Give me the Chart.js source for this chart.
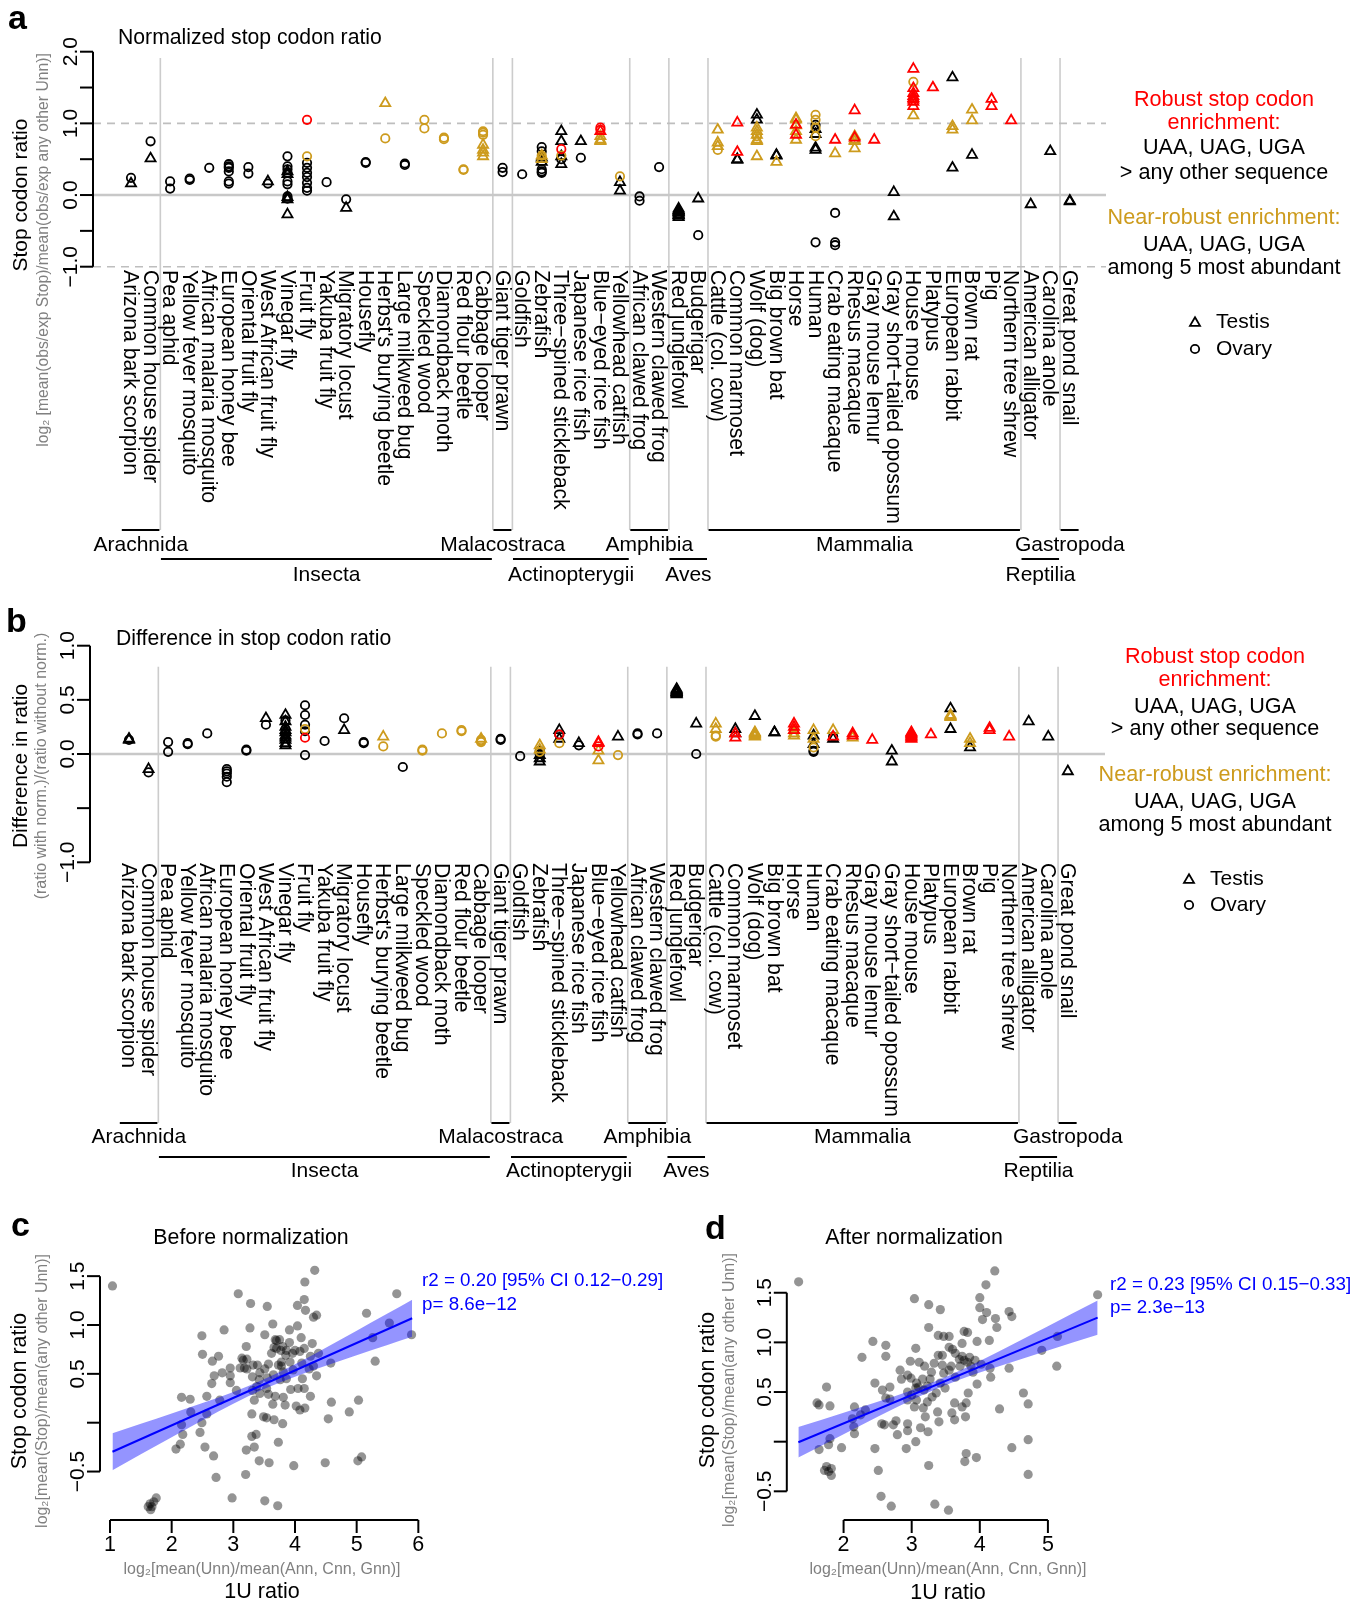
<!DOCTYPE html>
<html><head><meta charset="utf-8">
<script src="https://cdn.jsdelivr.net/npm/chart.js@4.4.1/dist/chart.umd.min.js"></script>
<style>
html,body{margin:0;padding:0;background:#fff;}
body{width:1355px;height:1604px;position:relative;overflow:hidden;}
canvas{position:absolute;}
</style></head><body>
<canvas id="ca" width="1355" height="590" style="left:0;top:0;width:1355px;height:590px"></canvas>
<canvas id="cb" width="1355" height="600" style="left:0;top:590px;width:1355px;height:600px"></canvas>
<canvas id="cc" width="680" height="414" style="left:0;top:1190px;width:680px;height:414px"></canvas>
<canvas id="cd" width="675" height="414" style="left:680px;top:1190px;width:675px;height:414px"></canvas>
<script>
// ---------------- DATA ----------------
const species = ["Arizona bark scorpion","Common house spider","Pea aphid","Yellow fever mosquito","African malaria mosquito","European honey bee","Oriental fruit fly","West African fruit fly","Vinegar fly","Fruit fly","Yakuba fruit fly","Migratory locust","Housefly","Herbst's burying beetle","Large milkweed bug","Speckled wood","Diamondback moth","Red flour beetle","Cabbage looper","Giant tiger prawn","Goldfish","Zebrafish","Three\u2212spined stickleback","Japanese rice fish","Blue\u2212eyed rice fish","Yellowhead catfish","African clawed frog","Western clawed frog","Red junglefowl","Budgerigar","Cattle (col. cow)","Common marmoset","Wolf (dog)","Big brown bat","Horse","Human","Crab eating macaque","Rhesus macaque","Gray mouse lemur","Gray short\u2212tailed opossum","House mouse","Platypus","European rabbit","Brown rat","Pig","Northern tree shrew","American alligator","Carolina anole","Great pond snail"];
const groupNames = ["Arachnida","Insecta","Malacostraca","Actinopterygii","Amphibia","Aves","Mammalia","Reptilia","Gastropoda"];
const groupStart = [1,3,20,21,27,29,31,47,49];
const groupEnd   = [2,19,20,26,28,30,46,48,49];
const groupRow   = [0,1,0,1,0,1,0,1,0];

// panel a: normalized stop codon ratio  [species index, value]
const aTestisBlack = [[1,0.16],[2,0.51],[8,0.19],[9,0.33],[9,0.29],[9,-0.03],[9,-0.06],[9,-0.27],[12,-0.18],
 [22,0.52],[22,0.46],[23,0.89],[23,0.75],[23,0.54],[23,0.43],[24,0.75],[26,0.18],[26,0.06],
 [29,-0.19],[29,-0.21],[29,-0.23],[29,-0.25],[29,-0.27],[29,-0.29],[29,-0.31],[29,-0.24],[29,-0.22],[29,-0.28],
 [30,-0.05],[32,0.50],[32,0.49],[33,1.12],[33,1.05],[34,0.56],[34,0.55],[36,0.92],[36,0.85],[36,0.66],[36,0.63],
 [40,0.04],[40,-0.30],[43,1.64],[43,0.38],[44,0.56],[47,-0.13],[48,0.61],[49,-0.08],[49,-0.09]];
const aTestisRed = [[25,0.89],[32,1.01],[32,0.60],[35,0.98],[35,0.84],[37,0.77],[38,1.18],[38,0.80],[39,0.77],
 [41,1.76],[41,1.49],[41,1.42],[41,1.38],[41,1.33],[41,1.35],[41,1.24],[41,1.30],[42,1.50],[45,1.34],[45,1.24],[46,1.04]];
const aTestisGold = [[14,1.28],[19,0.70],[19,0.63],[19,0.59],[19,0.54],[22,0.55],[22,0.50],[25,0.82],[25,0.77],[25,0.75],
 [31,0.91],[31,0.73],[31,0.68],[33,0.94],[33,0.89],[33,0.84],[33,0.77],[33,0.75],[33,0.54],[34,0.46],
 [35,1.07],[35,1.05],[35,0.97],[35,0.89],[35,0.77],[37,0.58],[38,0.82],[38,0.77],[38,0.75],[38,0.65],[41,1.11],[43,0.91],[43,0.96],[44,1.19],[44,1.04]];
const aOvaryBlack = [[1,0.24],[2,0.75],[3,0.19],[3,0.09],[4,0.23],[4,0.21],[5,0.38],[6,0.43],[6,0.40],[6,0.38],[6,0.33],[6,0.19],[6,0.16],[7,0.39],[7,0.30],[8,0.16],
 [9,0.54],[9,0.40],[9,0.36],[9,0.31],[9,0.19],[9,0.15],[9,-0.02],[9,-0.05],
 [10,0.45],[10,0.38],[10,0.31],[10,0.25],[10,0.17],[10,0.10],[10,0.06],
 [11,0.18],[12,-0.06],[13,0.46],[13,0.45],[15,0.44],[15,0.42],[20,0.38],[20,0.32],[21,0.29],
 [22,0.67],[22,0.61],[22,0.36],[22,0.33],[22,0.31],[23,0.50],[24,0.52],[27,-0.02],[27,-0.08],[28,0.39],[30,-0.56],
 [36,0.98],[36,-0.66],[37,-0.25],[37,-0.66],[37,-0.70]];
const aOvaryRed = [[10,1.05],[23,0.64],[25,0.94],[25,0.91]];
const aOvaryGold = [[10,0.54],[14,0.79],[16,1.05],[16,0.93],[17,0.80],[17,0.78],[18,0.36],[18,0.35],[19,0.89],[19,0.87],[19,0.84],
 [22,0.55],[23,0.55],[26,0.26],[31,0.63],[33,0.82],[36,1.12],[36,1.05],[36,0.94],[36,0.82],[41,1.58]];

// panel b: difference in stop codon ratio
const bTestisBlack = [[1,0.13],[1,0.14],[2,-0.14],[8,0.33],[9,0.36],[9,0.30],[9,0.25],[9,0.20],[9,0.17],[9,0.13],[9,0.08],[9,0.22],[9,0.15],[9,0.10],[12,0.22],
 [22,-0.04],[22,-0.07],[22,-0.01],[23,0.22],[23,0.14],[24,0.10],[26,0.16],
 [29,0.60],[29,0.58],[29,0.57],[29,0.56],[29,0.55],[29,0.59],[29,0.57],[29,0.56],
 [30,0.28],[32,0.23],[32,0.19],[33,0.35],[34,0.20],[34,0.20],[36,0.17],[36,0.09],[37,0.14],[40,0.03],[40,-0.07],[43,0.42],[43,0.23],[44,0.06],[47,0.30],[48,0.16],[49,-0.16]];
const bTestisRed = [[25,0.11],[25,0.10],[32,0.19],[32,0.15],[35,0.28],[35,0.25],[35,0.22],[37,0.16],[38,0.19],[38,0.17],[39,0.13],
 [41,0.20],[41,0.18],[41,0.16],[41,0.15],[41,0.19],[41,0.17],[41,0.14],[42,0.18],[45,0.22],[45,0.24],[46,0.16]];
const bTestisGold = [[14,0.16],[19,0.14],[22,0.08],[22,0.04],[25,0.03],[25,-0.06],[31,0.28],[31,0.23],[33,0.20],[33,0.19],[33,0.17],[33,0.16],[33,0.18],
 [35,0.22],[35,0.19],[35,0.17],[36,0.22],[36,0.14],[37,0.22],[38,0.15],[43,0.36],[43,0.34],[43,0.35],[44,0.14],[44,0.10]];
const bOvaryBlack = [[1,0.13],[2,-0.17],[3,0.11],[3,0.02],[4,0.10],[4,0.09],[5,0.19],[6,-0.14],[6,-0.16],[6,-0.18],[6,-0.21],[6,-0.26],[7,0.04],[7,0.03],[8,0.27],
 [9,0.31],[9,0.23],[9,0.19],[10,0.45],[10,0.36],[10,0.27],[10,0.21],[10,-0.01],[11,0.12],[12,0.33],[13,0.11],[13,0.10],[15,-0.12],
 [20,0.13],[20,0.14],[21,-0.02],[22,0.03],[22,0.00],[23,0.18],[24,0.08],[27,0.19],[27,0.18],[28,0.19],[30,0.00],[36,0.03],[36,0.02],[37,0.16]];
const bOvaryRed = [[10,0.15],[23,0.18],[25,0.07]];
const bOvaryGold = [[10,0.23],[14,0.07],[16,0.04],[16,0.03],[17,0.19],[18,0.22],[18,0.21],[19,0.13],[19,0.12],[19,0.11],[22,0.02],[23,0.10],[26,-0.01],[31,0.17],[31,0.16],[36,0.06]];

// tick values / labels
const aYTicks = [2,1.5,1,0.5,0,-0.5,-1];
const aYLabelValues = [2,1,0,-1];
const aYLabelTexts = ["2.0","1.0","0.0","\u22121.0"];
const bYTicks = [1,0.5,0,-0.5,-1];
const bYLabelValues = [1,0.5,0,-1];
const bYLabelTexts = ["1.0","0.5","0.0","\u22121.0"];
const aRefValues = [0,1,-1];
const bRefValues = [0];

// panel c: before normalization  [1U ratio, stop codon ratio]
const cPoints = [[1.04,1.40],[3.08,1.32],[3.28,1.22],[3.55,1.19],[4.32,1.56],[4.16,1.44],[4.15,1.26],[4.04,1.20],[4.17,1.15],[4.30,1.08],[4.35,1.10],[5.65,1.32],[5.16,1.12],[5.53,1.02],[5.26,0.87],[5.89,0.90],[5.30,0.63],
 [2.85,0.95],[2.49,0.89],[3.27,0.97],[3.64,1.01],[3.51,0.90],[3.91,0.95],[4.04,0.99],[4.10,0.87],[3.68,0.85],[3.75,0.85],[3.91,0.82],[3.21,0.78],[3.66,0.77],[3.70,0.76],[4.15,0.76],[4.28,0.81],[4.38,0.71],
 [2.50,0.70],[2.76,0.68],[2.66,0.63],[3.14,0.66],[3.22,0.65],[3.18,0.56],[3.22,0.55],[3.39,0.59],[3.57,0.60],[3.73,0.59],[3.78,0.58],[3.92,0.62],[3.96,0.71],[4.00,0.74],[4.08,0.73],[3.85,0.69],[3.80,0.78],[3.51,0.55],
 [3.31,0.47],[3.42,0.44],[3.55,0.46],[3.65,0.49],[3.76,0.44],[3.86,0.45],[4.12,0.45],[4.23,0.55],[4.30,0.58],[4.35,0.48],[4.58,0.61],
 [2.69,0.48],[2.82,0.51],[2.95,0.48],[2.65,0.40],[2.95,0.41],[3.05,0.33],[3.31,0.33],[3.43,0.30],[3.57,0.29],[3.93,0.34],[4.05,0.35],[4.15,0.35],
 [2.16,0.26],[2.30,0.24],[2.57,0.27],[2.78,0.23],[3.34,0.23],[3.68,0.27],[3.81,0.26],[4.25,0.27],[4.59,0.21],[5.03,0.23],
 [3.64,0.19],[3.84,0.18],[4.02,0.17],[4.08,0.13],[4.16,0.15],[4.88,0.11],[2.31,0.11],[2.57,0.09],[3.30,0.09],[3.49,0.06],[3.54,0.05],[4.54,0.04],
 [2.16,-0.02],[2.49,0.00],[3.66,0.03],[3.80,-0.01],[2.18,-0.12],[2.46,-0.10],[3.30,-0.14],[3.37,-0.12],[3.73,-0.20],[2.14,-0.22],[2.07,-0.27],[2.54,-0.25],[3.21,-0.28],[3.34,-0.25],[2.68,-0.34],[3.42,-0.39],[3.58,-0.41],[3.98,-0.44],[4.49,-0.41],[5.02,-0.39],[5.08,-0.35],
 [2.72,-0.56],[3.20,-0.53],[2.98,-0.77],[3.51,-0.80],[3.72,-0.85],
 [1.65,-0.83],[1.68,-0.86],[1.71,-0.81],[1.62,-0.86],[1.75,-0.77],[1.66,-0.89],
 [3.70,0.84],[3.77,0.74],[3.86,0.74],[3.78,0.62],[3.62,0.71],[3.43,0.51],[3.32,0.59],[3.16,0.64],[3.81,0.52],[3.97,0.54],[4.25,0.68],[4.11,0.61],[3.54,0.35],[3.38,0.37],[2.95,0.56],[3.11,0.56]];
const cFitX = [1.04,5.9];
const cFitY = [-0.297,1.069];
const cBandX = [1.04,1.5,2,2.5,3,3.47,4,4.5,5,5.5,5.9];
const cBandLow = [-0.487,-0.324,-0.149,0.025,0.193,0.336,0.471,0.583,0.690,0.795,0.879];
const cBandHigh = [-0.107,-0.011,0.095,0.202,0.315,0.436,0.599,0.768,0.942,1.118,1.259];
const cStats = ["r2 = 0.20 [95% CI 0.12\u22120.29]","p= 8.6e\u221212"];
const cXTicks = [1,2,3,4,5,6];
const cYTicks = [1.5,1,0.5,0,-0.5];
const cYLabelValues = [1.5,1,0.5,-0.5];
const cYLabelTexts = ["1.5","1.0","0.5","\u22120.5"];

// panel d: after normalization
const dPoints = [[1.34,1.61],[4.22,1.72],[4.09,1.58],[3.04,1.44],[3.25,1.38],[3.42,1.33],[4.00,1.45],[4.00,1.35],[4.10,1.30],[4.23,1.24],[4.25,1.15],[4.43,1.31],[4.47,1.26],[4.04,1.23],[5.73,1.48],
 [3.25,1.15],[3.39,1.07],[3.47,1.06],[3.55,1.06],[3.77,1.11],[3.82,1.10],[3.96,1.01],[4.14,1.02],[2.43,1.01],[2.62,0.97],[3.06,0.94],[3.55,0.95],[3.74,0.99],
 [3.39,0.87],[3.45,0.87],[3.64,0.89],[3.74,0.86],[3.77,0.82],[3.85,0.85],[3.93,0.82],[4.02,0.78],[2.27,0.85],[2.62,0.86],[2.98,0.81],[3.11,0.80],[3.19,0.76],[3.33,0.79],[3.45,0.77],[3.58,0.76],[3.71,0.76],[3.87,0.76],[4.15,0.74],[4.43,0.74],[5.13,0.76],[4.91,0.92],[5.14,1.06],
 [2.83,0.72],[2.94,0.67],[3.29,0.70],[3.47,0.69],[3.64,0.65],[4.16,0.65],[2.85,0.63],[2.99,0.64],[3.16,0.63],[3.27,0.63],[2.46,0.59],[2.68,0.55],[3.07,0.59],[3.23,0.56],[3.42,0.59],[3.49,0.54],[3.96,0.58],
 [1.75,0.55],[2.57,0.52],[2.94,0.50],[3.06,0.54],[3.18,0.52],[3.36,0.49],[3.83,0.49],[4.64,0.49],[2.62,0.44],[2.68,0.43],[2.94,0.42],[3.07,0.42],[3.23,0.40],[3.63,0.39],[3.80,0.39],
 [1.61,0.39],[1.64,0.37],[1.80,0.36],[2.16,0.35],[3.04,0.35],[3.17,0.34],[4.71,0.38],[3.74,0.35],[2.32,0.32],[3.38,0.30],[4.29,0.33],[3.59,0.29],[2.25,0.27],[2.13,0.23],[3.20,0.25],[3.40,0.20],[3.63,0.22],[3.79,0.25],
 [2.56,0.18],[2.60,0.17],[2.73,0.17],[2.77,0.21],[2.94,0.18],[2.15,0.15],[3.13,0.14],[3.24,0.10],[2.16,0.08],[2.94,0.11],[2.79,0.07],[1.80,0.03],[1.78,-0.03],[3.06,0.00],[4.71,0.02],
 [1.64,-0.08],[1.97,-0.06],[2.46,-0.07],[2.92,-0.07],[4.47,-0.06],[3.80,-0.12],[3.95,-0.16],[3.78,-0.20],[3.25,-0.24],
 [1.75,-0.25],[1.82,-0.27],[1.72,-0.29],[1.78,-0.30],[1.82,-0.34],[2.51,-0.29],[4.71,-0.33],[2.55,-0.55],[2.70,-0.65],[3.34,-0.63],[3.54,-0.69],
 [3.60,0.93],[3.70,0.83],[3.82,0.80],[3.10,0.55],[3.00,0.47],[3.30,0.45],[3.55,0.72],[3.90,0.70]];
const dFitX = [1.336,5.73];
const dFitY = [-0.006,1.249];
const dBandX = [1.336,2,2.5,3,3.4,4,4.5,5,5.73];
const dBandLow = [-0.160,0.075,0.250,0.420,0.543,0.696,0.808,0.918,1.076];
const dBandHigh = [0.148,0.292,0.402,0.518,0.623,0.813,0.986,1.162,1.421];
const dStats = ["r2 = 0.23 [95% CI 0.15\u22120.33]","p= 2.3e\u221213"];
const dXTicks = [2,3,4,5];
const dYTicks = [1.5,1,0.5,0,-0.5];
const dYLabelValues = [1.5,1,0.5,-0.5];
const dYLabelTexts = ["1.5","1.0","0.5","\u22120.5"];

const legendLines = ["Robust stop codon","enrichment:","UAA, UAG, UGA","> any other sequence","Near-robust enrichment:","UAA, UAG, UGA","among 5 most abundant"];
const legendKinds = ["red","red","black","black","gold","black","black"];

// ---------------- STYLE ----------------
const FONT = '"Liberation Sans", Arial, Helvetica, sans-serif';
const COL = {black:'#000000', red:'#FF0000', gold:'#CD9B1D', sub:'#808080', grid:'#CCCCCC', blue:'#0000FF'};
const TRI_R = 5.8, CIR_R = 4.2, MARK_W = 1.8;

function txt(ctx, s, x, y, o) {
  ctx.save();
  ctx.font = (o.weight || 'normal') + ' ' + o.size + 'px ' + FONT;
  if (o.fit) {
    const w = ctx.measureText(s).width;
    const size = o.size * o.fit / w;
    ctx.font = (o.weight || 'normal') + ' ' + size + 'px ' + FONT;
  }
  ctx.fillStyle = o.color || '#000';
  ctx.textAlign = o.align || 'left';
  ctx.textBaseline = o.baseline || 'middle';
  ctx.translate(x, y);
  if (o.rot) ctx.rotate(o.rot);
  ctx.fillText(s, 0, 0);
  ctx.restore();
}
function seg(ctx, x1, y1, x2, y2, color, w, dash) {
  ctx.save();
  ctx.strokeStyle = color; ctx.lineWidth = w; ctx.setLineDash(dash || []);
  ctx.beginPath(); ctx.moveTo(x1, y1); ctx.lineTo(x2, y2); ctx.stroke();
  ctx.restore();
}
function sym(ctx, shape, x, y) {
  ctx.save();
  ctx.strokeStyle = '#000'; ctx.lineWidth = MARK_W;
  ctx.beginPath();
  if (shape === 'triangle') {
    const r = TRI_R;
    ctx.moveTo(x, y - r); ctx.lineTo(x + 0.866 * r, y + 0.5 * r); ctx.lineTo(x - 0.866 * r, y + 0.5 * r); ctx.closePath();
  } else {
    ctx.arc(x, y, CIR_R, 0, Math.PI * 2);
  }
  ctx.stroke();
  ctx.restore();
}
function drawYAxis(ctx, ys, x, ticks, labVals, labTexts) {
  const y1 = ys.getPixelForValue(ticks[0]), y2 = ys.getPixelForValue(ticks[ticks.length - 1]);
  seg(ctx, x, y1, x, y2, '#000', 2);
  ticks.forEach(t => { const y = ys.getPixelForValue(t); seg(ctx, x - 13, y, x, y, '#000', 2); });
  labVals.forEach((v, i) => txt(ctx, labTexts[i], x - 16, ys.getPixelForValue(v), {size: 21, rot: -Math.PI / 2, align: 'center', baseline: 'alphabetic'}));
}

function stripPlugin(P) {
  return {
    id: 'strip' + P.id,
    beforeDatasetsDraw(chart) {
      const ctx = chart.ctx, xs = chart.scales.x;
      for (let i = 0; i < groupEnd.length - 1; i++) {
        const x = xs.getPixelForValue(groupEnd[i] + 0.5);
        seg(ctx, x, P.sepTop, x, P.sepBottom, COL.grid, 1.6);
      }
    },
    afterDraw(chart) {
      const ctx = chart.ctx, xs = chart.scales.x, ys = chart.scales.y, ca = chart.chartArea;
      drawYAxis(ctx, ys, ca.left, P.yTicks, P.yLabVals, P.yLabTexts);
      species.forEach((s, i) => txt(ctx, s, xs.getPixelForValue(i + 1) - 1, P.labelTop, {size: 21.2, rot: Math.PI / 2, align: 'left', baseline: 'middle'}));
      groupNames.forEach((g, i) => {
        const r = groupRow[i];
        const x1 = xs.getPixelForValue(groupStart[i] - 0.47), x2 = xs.getPixelForValue(groupEnd[i] + 0.45);
        seg(ctx, x1, P.rowLine[r], x2, P.rowLine[r], '#000', 2);
        txt(ctx, g, xs.getPixelForValue((groupStart[i] + groupEnd[i]) / 2), P.rowText[r], {size: 21, align: 'center'});
      });
      txt(ctx, P.letter, P.letterX, P.letterY, {size: 34, weight: 'bold', baseline: 'alphabetic'});
      txt(ctx, P.title, P.titleX, P.titleY, {size: 21.2, baseline: 'alphabetic'});
      txt(ctx, P.yTitle, P.yTitleX, P.yTitleY, {size: 21, rot: -Math.PI / 2, align: 'center'});
      txt(ctx, P.ySub, P.ySubX, P.ySubY, {size: 15, fit: P.ySubW, color: COL.sub, rot: -Math.PI / 2, align: 'center'});
      legendLines.forEach((s, i) => txt(ctx, s, P.legX, P.legY[i], {size: 21.6, align: 'center', color: COL[legendKinds[i]]}));
      sym(ctx, 'triangle', P.tisSymX, P.tisY[0] + 1);
      sym(ctx, 'circle', P.tisSymX, P.tisY[1]);
      txt(ctx, 'Testis', P.tisTextX, P.tisY[0], {size: 21});
      txt(ctx, 'Ovary', P.tisTextX, P.tisY[1], {size: 21});
    }
  };
}

function makeStrip(id, P, series, refValues) {
  const ds = [];
  refValues.forEach(v => ds.push({type: 'line', data: [{x: P.xMin, y: v}, {x: P.xMax, y: v}],
    borderColor: v === 0 ? '#C8C8C8' : '#BEBEBE', borderWidth: v === 0 ? 2.4 : 1.6, borderDash: v === 0 ? [] : [8, 6],
    pointRadius: 0, fill: false, clip: false, order: 20}));
  series.forEach((s, k) => ds.push({type: 'scatter', data: s.data.map(p => ({x: p[0], y: p[1]})),
    pointStyle: s.shape, pointRadius: s.shape === 'triangle' ? TRI_R : CIR_R,
    borderColor: COL[s.color], pointBorderColor: COL[s.color], backgroundColor: 'rgba(0,0,0,0)', pointBackgroundColor: 'rgba(0,0,0,0)',
    borderWidth: MARK_W, pointBorderWidth: MARK_W, clip: false, order: 10 - k}));
  new Chart(document.getElementById(id), {
    type: 'scatter', data: {datasets: ds},
    options: {responsive: false, animation: false, devicePixelRatio: 1, events: [],
      layout: {padding: P.padding},
      plugins: {legend: {display: false}, tooltip: {enabled: false}},
      scales: {x: {type: 'linear', min: P.xMin, max: P.xMax, display: false},
               y: {type: 'linear', min: P.yMin, max: P.yMax, display: false}}},
    plugins: [stripPlugin(P)]
  });
}

function scatterPlugin(P) {
  return {
    id: 'sc' + P.id,
    afterDraw(chart) {
      const ctx = chart.ctx, xs = chart.scales.x, ys = chart.scales.y;
      drawYAxis(ctx, ys, P.yAxisX, P.yTicks, P.yLabVals, P.yLabTexts);
      const xa = xs.getPixelForValue(P.xTicks[0]), xb = xs.getPixelForValue(P.xTicks[P.xTicks.length - 1]);
      seg(ctx, xa, P.xAxisY, xb, P.xAxisY, '#000', 2);
      P.xTicks.forEach(t => {
        const x = xs.getPixelForValue(t);
        seg(ctx, x, P.xAxisY, x, P.xAxisY + 13, '#000', 2);
        txt(ctx, String(t), x, P.xAxisY + 25, {size: 21.5, align: 'center'});
      });
      txt(ctx, P.letter, P.letterX, P.letterY, {size: 34, weight: 'bold', baseline: 'alphabetic'});
      txt(ctx, P.title, P.titleX, P.titleY, {size: 21.3, align: 'center'});
      txt(ctx, 'Stop codon ratio', P.yTitleX, P.yTitleY, {size: 21.5, rot: -Math.PI / 2, align: 'center'});
      txt(ctx, 'log\u2082[mean(Stop)/mean(any other Unn)]', P.ySubX, P.yTitleY, {size: 15, fit: 274, color: COL.sub, rot: -Math.PI / 2, align: 'center'});
      txt(ctx, 'log\u2082[mean(Unn)/mean(Ann, Cnn, Gnn)]', P.xTitleX, P.xSubY, {size: 15, fit: 277, color: COL.sub, align: 'center'});
      txt(ctx, '1U ratio', P.xTitleX, P.xTitleY, {size: 21.5, align: 'center'});
      txt(ctx, P.stats[0], P.statX, P.statY[0], {size: 18.8, color: COL.blue});
      txt(ctx, P.stats[1], P.statX, P.statY[1], {size: 18.8, color: COL.blue});
    }
  };
}

function makeScatter(id, P, pts, fitX, fitY, bandX, bandLow, bandHigh) {
  const ds = [
    {type: 'scatter', data: pts.map(p => ({x: p[0], y: p[1]})), pointRadius: 4.6, pointStyle: 'circle',
     backgroundColor: 'rgba(0,0,0,0.42)', pointBackgroundColor: 'rgba(0,0,0,0.42)', borderWidth: 0, pointBorderWidth: 0, clip: false, order: 3},
    {type: 'line', data: bandX.map((x, i) => ({x: x, y: bandLow[i]})), borderWidth: 0, pointRadius: 0, fill: false, cubicInterpolationMode: 'monotone', clip: false, order: 2},
    {type: 'line', data: bandX.map((x, i) => ({x: x, y: bandHigh[i]})), borderWidth: 0, borderColor: 'rgba(0,0,0,0)', pointRadius: 0,
     fill: '-1', backgroundColor: 'rgba(0,0,255,0.42)', cubicInterpolationMode: 'monotone', clip: false, order: 2},
    {type: 'line', data: fitX.map((x, i) => ({x: x, y: fitY[i]})), borderColor: COL.blue, borderWidth: 2, pointRadius: 0, fill: false, clip: false, order: 1}
  ];
  new Chart(document.getElementById(id), {
    type: 'scatter', data: {datasets: ds},
    options: {responsive: false, animation: false, devicePixelRatio: 1, events: [],
      layout: {padding: P.padding},
      plugins: {legend: {display: false}, tooltip: {enabled: false}},
      scales: {x: {type: 'linear', min: P.xMin, max: P.xMax, display: false},
               y: {type: 'linear', min: P.yMin, max: P.yMax, display: false}}},
    plugins: [scatterPlugin(P)]
  });
}

// ---------------- BUILD ----------------
makeStrip('ca', {
  id: 'a', xMin: -0.943, xMax: 50.85, yMin: -1, yMax: 2,
  padding: {left: 93, right: 249, top: 51.7, bottom: 323.3},
  yTicks: aYTicks, yLabVals: aYLabelValues, yLabTexts: aYLabelTexts,
  sepTop: 58, sepBottom: 530, labelTop: 270, rowLine: [530, 559], rowText: [545, 575],
  letter: 'a', letterX: 8, letterY: 29, title: 'Normalized stop codon ratio', titleX: 118, titleY: 44,
  yTitle: 'Stop codon ratio', yTitleX: 21, yTitleY: 195,
  ySub: 'log\u2082 [mean(obs/exp Stop)/mean(obs/exp any other Unn)]', ySubX: 44, ySubY: 250, ySubW: 394,
  legX: 1224, legY: [100, 123, 148, 173, 218, 245, 268],
  tisSymX: 1195, tisTextX: 1216, tisY: [322, 349]
}, [
  {data: aTestisBlack, shape: 'triangle', color: 'black'},
  {data: aOvaryBlack, shape: 'circle', color: 'black'},
  {data: aTestisGold, shape: 'triangle', color: 'gold'},
  {data: aOvaryGold, shape: 'circle', color: 'gold'},
  {data: aTestisRed, shape: 'triangle', color: 'red'},
  {data: aOvaryRed, shape: 'circle', color: 'red'}
], aRefValues);

makeStrip('cb', {
  id: 'b', xMin: -0.994, xMax: 50.9, yMin: -1, yMax: 1,
  padding: {left: 90, right: 250, top: 55.7, bottom: 327.7},
  yTicks: bYTicks, yLabVals: bYLabelValues, yLabTexts: bYLabelTexts,
  sepTop: 76.7, sepBottom: 533, labelTop: 273, rowLine: [533, 567], rowText: [547, 581],
  letter: 'b', letterX: 6, letterY: 42, title: 'Difference in stop codon ratio', titleX: 116, titleY: 55,
  yTitle: 'Difference in ratio', yTitleX: 21, yTitleY: 176,
  ySub: '(ratio with norm.)/(ratio without norm.)', ySubX: 42, ySubY: 176, ySubW: 267,
  legX: 1215, legY: [67, 90, 117, 139, 185, 212, 235],
  tisSymX: 1189, tisTextX: 1210, tisY: [289, 315]
}, [
  {data: bTestisBlack, shape: 'triangle', color: 'black'},
  {data: bOvaryBlack, shape: 'circle', color: 'black'},
  {data: bTestisGold, shape: 'triangle', color: 'gold'},
  {data: bOvaryGold, shape: 'circle', color: 'gold'},
  {data: bTestisRed, shape: 'triangle', color: 'red'},
  {data: bOvaryRed, shape: 'circle', color: 'red'}
], bRefValues);

makeScatter('cc', {
  id: 'c', xMin: 1, xMax: 6, yMin: -1.0, yMax: 1.7,
  padding: {left: 110, right: 261.67, top: 66.6, bottom: 83.6},
  yAxisX: 100, yTicks: cYTicks, yLabVals: cYLabelValues, yLabTexts: cYLabelTexts,
  xTicks: cXTicks, xAxisY: 330,
  letter: 'c', letterX: 11, letterY: 46, title: 'Before normalization', titleX: 251, titleY: 48,
  yTitleX: 20, ySubX: 43, yTitleY: 201, xTitleX: 262, xSubY: 380, xTitleY: 402,
  stats: cStats, statX: 422, statY: [91, 115]
}, cPoints, cFitX, cFitY, cBandX, cBandLow, cBandHigh);

makeScatter('cd', {
  id: 'd', xMin: 1.25, xMax: 5.8, yMin: -0.8, yMax: 1.8,
  padding: {left: 112.5, right: 252.6, top: 72.96, bottom: 82.9},
  yAxisX: 106.8, yTicks: dYTicks, yLabVals: dYLabelValues, yLabTexts: dYLabelTexts,
  xTicks: dXTicks, xAxisY: 330,
  letter: 'd', letterX: 25, letterY: 49, title: 'After normalization', titleX: 234, titleY: 48,
  yTitleX: 28, ySubX: 49.5, yTitleY: 200, xTitleX: 268, xSubY: 380, xTitleY: 403,
  stats: dStats, statX: 430, statY: [95, 118]
}, dPoints, dFitX, dFitY, dBandX, dBandLow, dBandHigh);
</script>
</body></html>
